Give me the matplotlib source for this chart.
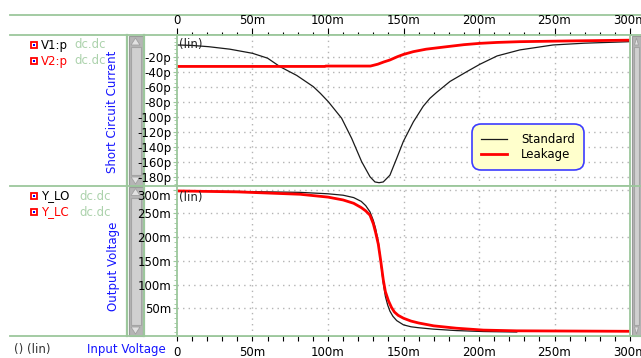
import matplotlib
matplotlib.use('Agg')
import matplotlib.pyplot as plt
from matplotlib.patches import Rectangle, Polygon
from matplotlib.ticker import MultipleLocator

# input voltage (mV) / short circuit current (pA)
std_v = [0, 10, 21, 35, 50, 60, 68.2, 79.3, 90.3, 95, 100.2, 109, 115.7, 122.3, 127.8, 131.1, 133.8,
         136.6, 141, 145.5, 149.9, 156.5, 163.1, 167.5, 172, 180.8, 191.9, 200.7, 212, 227, 249, 270, 300]
std_i = [-4.4, -5, -6.7, -10, -15.5, -22, -33.3, -45, -60, -69, -80, -102, -129, -160, -180, -187, -188,
         -187, -178, -155.5, -133, -107, -86, -75.5, -67.5, -53, -40, -30, -19, -11, -4.4, -2, 0]
leak_v = [0, 98, 98.5, 128.1, 133, 137, 141, 146, 150, 156.5, 165, 178.6, 190, 200.7, 212, 227, 260, 300]
leak_i = [-33, -33, -32.5, -32.5, -30, -27, -24.4, -20, -17, -13.3, -10, -6.7, -4, -2.2, -1, 0, 1, 2]

# input voltage (mV) / output voltage (mV)
std_out_v = [0, 40, 81.5, 100, 110, 117, 122, 125, 127.8, 130, 131.5, 133.3, 135, 136.6, 138,
             139.5, 141, 143, 145.5, 150, 155, 160, 170, 185, 203, 225]
std_out = [297, 296, 294, 291, 288, 283, 275, 266, 253, 235, 218, 190, 145, 103, 75,
           57, 44, 33, 24, 15, 11, 9, 6, 3, 1, 0]
leak_out_v = [0, 40, 81.5, 100, 110, 117, 122, 125, 127.8, 130, 131.5, 133.3, 135, 136.6, 138,
              140, 142, 144, 146.5, 150, 155, 160, 170, 185, 203, 225, 300]
leak_out = [297, 295, 290, 284, 278, 271, 262, 255, 246, 228, 210, 185, 148, 110, 85,
            66, 52, 42, 35, 29, 23, 19, 13, 8, 4, 2.5, 1.5]

x_ticks = [0, 50, 100, 150, 200, 250, 300]
x_labels = ['0', '50m', '100m', '150m', '200m', '250m', '300m']
cur_ticks = [-20, -40, -60, -80, -100, -120, -140, -160, -180]
cur_labels = ['-20p', '-40p', '-60p', '-80p', '-100p', '-120p', '-140p', '-160p', '-180p']
out_ticks = [50, 100, 150, 200, 250, 300]
out_labels = ['50m', '100m', '150m', '200m', '250m', '300m']

W, H = 641, 358
GREEN = '#9cc79c'
BLUE = '#1414ff'
FS = 8.5


def fr(x0, y0, x1, y1):
    return [x0 / W, 1 - y1 / H, (x1 - x0) / W, (y1 - y0) / H]


fig = plt.figure(figsize=(W / 100, H / 100), dpi=100)

# background layer in pixel coordinates
bg = fig.add_axes([0, 0, 1, 1])
bg.set_xlim(0, W)
bg.set_ylim(H, 0)
bg.axis('off')

for yy in [15, 35, 186, 336]:
    bg.plot([10, W], [yy, yy], color=GREEN, lw=1.3)
for xx in [127, 144]:
    bg.plot([xx, xx], [35, 336], color=GREEN, lw=1.6)


def scrollbar(x0, x1, y0, y1):
    bg.add_patch(Rectangle((x0, y0), x1 - x0, y1 - y0, fc='#b5b5b5', ec='#9a9a9a', lw=0.8))
    bg.add_patch(Rectangle((x0 + 2, y0 + 11), x1 - x0 - 4, y1 - y0 - 22,
                           fc='#d0d0d0', ec='#a4a4a4', lw=0.8))
    xm = (x0 + x1) / 2
    bg.add_patch(Polygon([(x0 + 2.5, y0 + 9), (x1 - 2.5, y0 + 9), (xm, y0 + 2)],
                         fc='#e2e2e2', ec='#a0a0a0', lw=0.6))
    bg.add_patch(Polygon([(x0 + 2.5, y1 - 9), (x1 - 2.5, y1 - 9), (xm, y1 - 2)],
                         fc='#e2e2e2', ec='#a0a0a0', lw=0.6))


scrollbar(128.5, 142.5, 36, 186)
scrollbar(128.5, 142.5, 186.5, 336)
scrollbar(632, 641, 36, 336)


def icon(x, y):
    bg.add_patch(Rectangle((x - 3, y - 3), 6, 6, fc='white', ec='red', lw=1.3))
    bg.add_patch(Rectangle((x - 0.8, y - 0.8), 1.6, 1.6, fc='blue', ec='none'))


rows = [(45, 'V1:p', 'black', 74), (61, 'V2:p', 'red', 74),
        (196, 'Y_LO', 'black', 79), (212, 'Y_LC', 'red', 79)]
for yy, name, col, xdc in rows:
    icon(34, yy)
    bg.text(41, yy, name, color=col, fontsize=FS, va='center', ha='left')
    bg.text(xdc, yy, 'dc.dc', color='#acd2ac', fontsize=FS, va='center', ha='left')

bg.text(113, 112, 'Short Circuit Current', color=BLUE, fontsize=FS, rotation=90,
        ha='center', va='center')
bg.text(113, 266, 'Output Voltage', color=BLUE, fontsize=FS, rotation=90,
        ha='center', va='center')
bg.text(126, 349, 'Input Voltage', color=BLUE, fontsize=FS, ha='center', va='center')
bg.text(14, 350, '() (lin)', color='#333333', fontsize=FS, ha='left', va='center')

grid_kw = dict(color='#b4b4b4', lw=1, linestyle=(0, (1, 3)))

# top panel: short circuit current
ax1 = fig.add_axes(fr(177, 35, 630, 186))
ax1.plot(std_v, std_i, color='#1a1a1a', lw=0.9, label='Standard')
ax1.plot(leak_v, leak_i, color='#ff0000', lw=2, label='Leakage')
ax1.set_xlim(0, 300)
ax1.set_ylim(-192.4, 8.9)
ax1.xaxis.set_ticks_position('top')
ax1.set_xticks(x_ticks, x_labels, fontsize=FS)
ax1.xaxis.set_minor_locator(MultipleLocator(10))
ax1.tick_params(axis='x', which='major', direction='out', length=5, width=0.8, pad=0.5, colors='black')
ax1.tick_params(axis='x', which='minor', direction='out', length=2.2, width=0.8, color='black')
ax1.set_yticks(cur_ticks, cur_labels, fontsize=FS)
ax1.yaxis.set_minor_locator(MultipleLocator(5))
ax1.tick_params(axis='y', which='major', direction='out', length=3, width=0.8, pad=1.2, color=GREEN)
ax1.tick_params(axis='y', which='minor', direction='out', length=2, width=0.6, color=GREEN)
for v in x_ticks[1:]:
    ax1.axvline(v, zorder=0, **grid_kw)
for c in cur_ticks:
    ax1.axhline(c, zorder=0, **grid_kw)
for s in ax1.spines.values():
    s.set_color(GREEN)
    s.set_linewidth(1.3)
ax1.text(1, -4.4, '(lin)', fontsize=FS, va='center', ha='left', color='#222222')
leg = ax1.legend(loc='upper left', bbox_to_anchor=(472 / W, 1 - 124 / H),
                 bbox_transform=fig.transFigure, borderaxespad=0, fontsize=FS,
                 handlelength=2.2, handletextpad=1.2, labelspacing=0.2, borderpad=0.75,
                 fancybox=True, framealpha=1, facecolor='#ffffcc', edgecolor='#3c3cff')
leg.get_frame().set_linewidth(1.2)
leg.get_frame().set_boxstyle('round,pad=0,rounding_size=0.8')

# bottom panel: output voltage
ax2 = fig.add_axes(fr(177, 186, 630, 336))
ax2.plot(std_out_v, std_out, color='#1a1a1a', lw=0.9)
ax2.plot(leak_out_v, leak_out, color='#ff0000', lw=2)
ax2.set_xlim(0, 300)
ax2.set_ylim(-8.4, 307.4)
ax2.set_xticks(x_ticks, x_labels, fontsize=FS)
ax2.xaxis.set_minor_locator(MultipleLocator(10))
ax2.tick_params(axis='x', which='both', direction='out', length=3.5, width=0.8, pad=3.5, colors='black')
ax2.set_yticks(out_ticks, out_labels, fontsize=FS)
ax2.yaxis.set_minor_locator(MultipleLocator(10))
ax2.tick_params(axis='y', which='major', direction='out', length=3, width=0.8, pad=1.2, color=GREEN)
ax2.tick_params(axis='y', which='minor', direction='out', length=2, width=0.6, color=GREEN)
ax2.get_yticklabels()[-1].set_va('top')
for v in x_ticks[1:]:
    ax2.axvline(v, zorder=0, **grid_kw)
for o in out_ticks:
    ax2.axhline(o, zorder=0, **grid_kw)
for s in ax2.spines.values():
    s.set_color(GREEN)
    s.set_linewidth(1.3)
ax2.text(1, 297, '(lin)', fontsize=FS, va='top', ha='left', color='#222222')

fig.savefig('out.png', dpi=100)
